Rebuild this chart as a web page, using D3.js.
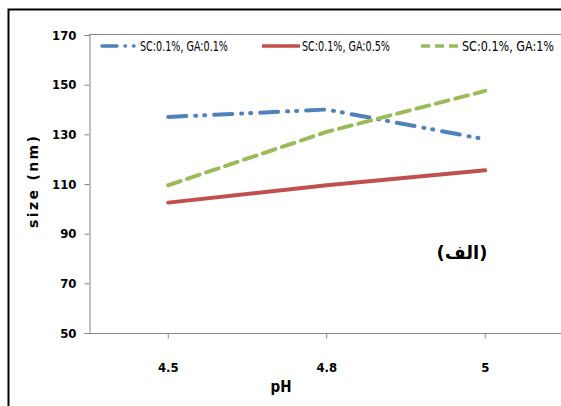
<!DOCTYPE html>
<html><head><meta charset="utf-8">
<script src="https://cdn.jsdelivr.net/npm/d3@7"></script>
<style>body{margin:0;background:#fff}svg{display:block}</style>
</head><body>
<script>
const categories = ["4.5", "4.8", "5"];
const seriesNames = ["SC:0.1%, GA:0.1%", "SC:0.1%, GA:0.5%", "SC:0.1%, GA:1%"];
const seriesA = [137, 140, 128];
const seriesB = [102.5, 109.5, 115.5];
const seriesC = [109.5, 131, 147.5];
const yTicks = [50, 70, 90, 110, 130, 150, 170];
const colors = ["#4F81BD", "#C0504D", "#9BBB59"];
const dashes = ["18 9 1 8 1 9", null, "13 7"];
const values = [seriesA, seriesB, seriesC];

const W = 561, H = 406;
const svg = d3.select("body").append("svg").attr("width", W).attr("height", H);
const fontTick = "DejaVu Sans Condensed, sans-serif";

// outer border
svg.append("path").attr("d", "M8.5,406 V9.5 H561").attr("fill", "none").attr("stroke", "#000").attr("stroke-width", 2);

const x = d3.scaleBand().domain(categories).range([89, 564.5]);
const y = d3.scaleLinear().domain([50, 170]).range([333, 35]);

const yAxis = svg.append("g").attr("transform", "translate(89.5,0)")
  .call(d3.axisLeft(y).tickValues(yTicks).tickSize(5).tickPadding(8).tickFormat(d3.format("d")));
yAxis.select(".domain").attr("stroke", "#868686");
yAxis.selectAll(".tick line").attr("stroke", "#868686");
yAxis.selectAll("text").attr("font-family", fontTick).attr("font-weight", "bold").attr("font-size", 13).attr("fill", "#000");

const xAxis = svg.append("g").attr("transform", "translate(0,333.5)")
  .call(d3.axisBottom(x).tickSize(5).tickPadding(24));
xAxis.select(".domain").attr("stroke", "#868686").attr("d", "M89,0H561");
xAxis.selectAll(".tick line").attr("stroke", "#868686");
xAxis.selectAll("text").attr("font-family", fontTick).attr("font-weight", "bold").attr("font-size", 13).attr("fill", "#000");

// legend box top
svg.append("line").attr("x1", 89).attr("x2", 561).attr("y1", 34.5).attr("y2", 34.5).attr("stroke", "#868686");

const line = d3.line().x((d, i) => x(categories[i]) + x.bandwidth() / 2).y(d => y(d));
values.forEach((v, k) => {
  svg.append("path").datum(v).attr("d", line).attr("fill", "none")
    .attr("stroke", colors[k]).attr("stroke-width", 4)
    .attr("stroke-linecap", "round")
    .attr("stroke-dasharray", dashes[k]);
});

// legend
const legX = [[102, 136, 140], [262, 300, 302], [421, 460, 462]];
const legLen = [88, 88, 92];
const legY = 46;
seriesNames.forEach((n, k) => {
  svg.append("line").attr("x1", legX[k][0]).attr("x2", legX[k][1]).attr("y1", legY).attr("y2", legY)
    .attr("stroke", colors[k]).attr("stroke-width", 3.5)
    .attr("stroke-linecap", k === 0 ? "round" : "butt")
    .attr("stroke-dasharray", k === 0 ? "15 8 0.5 8 0.5 8" : (k === 2 ? "9 5" : null));
  const t = svg.append("text").attr("x", 0).attr("y", 0).text(n)
    .attr("font-family", fontTick).attr("font-size", 14).attr("fill", "#000");
  const natural = t.node().getComputedTextLength();
  const s = legLen[k] / natural;
  t.attr("transform", `translate(${legX[k][2]},${legY + 5}) scale(${s},1)`);
});

// axis titles
svg.append("text").attr("x", 281).attr("y", 392).attr("text-anchor", "middle").text("pH")
  .attr("font-family", fontTick).attr("font-weight", "bold").attr("font-size", 15);
svg.append("text").attr("transform", "translate(38,182) rotate(-90)").attr("text-anchor", "middle").text("size (nm)")
  .attr("textLength", 92).attr("lengthAdjust", "spacing")
  .attr("font-family", "DejaVu Sans, sans-serif").attr("font-weight", "bold").attr("font-size", 14);

// annotation
svg.append("text").attr("x", 462).attr("y", 259).attr("text-anchor", "middle").text("(الف)")
  .attr("direction", "rtl")
  .attr("font-family", "DejaVu Sans, Noto Sans, sans-serif").attr("font-weight", "bold").attr("font-size", 18);
</script>
</body></html>
